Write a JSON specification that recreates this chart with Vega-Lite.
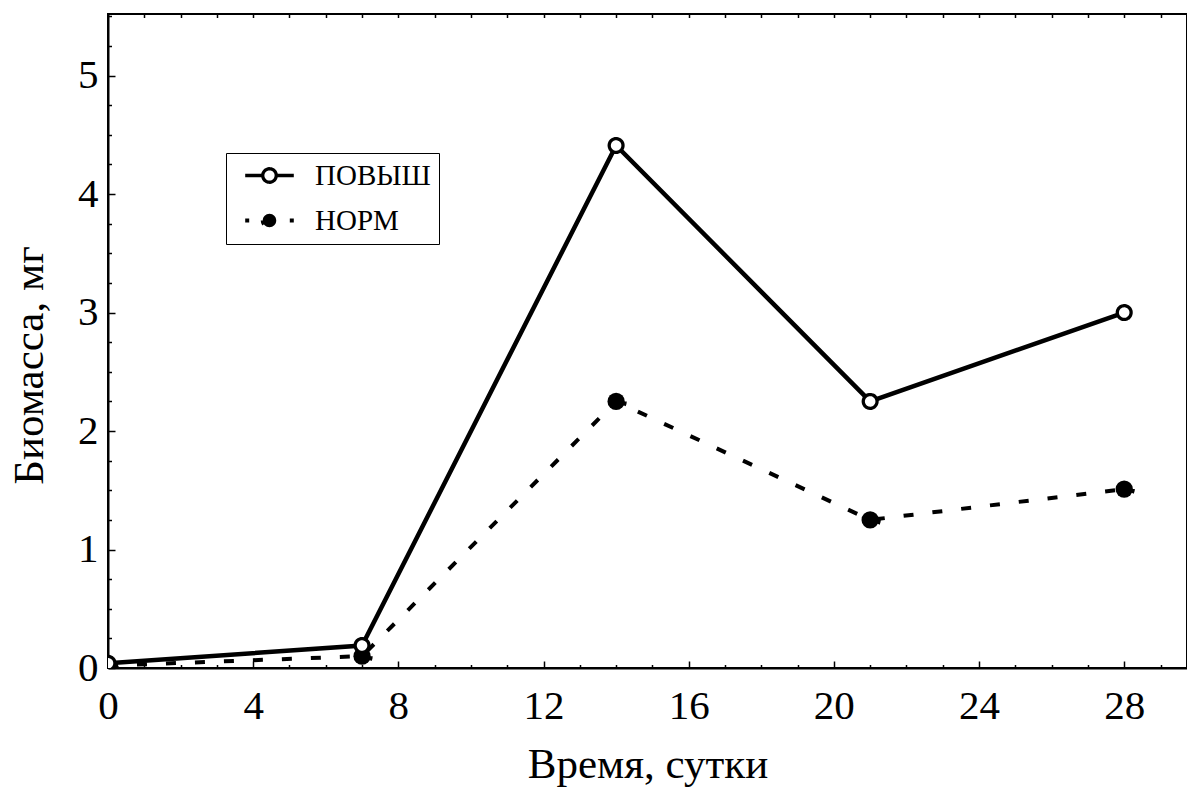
{
  "$schema": "https://vega.github.io/schema/vega-lite/v6.json",
  "width": 1079,
  "height": 654,
  "autosize": {"type": "none"},
  "padding": {"left": 108, "top": 14, "right": 0, "bottom": 119},
  "background": "white",
  "config": {
    "view": {"stroke": "black", "strokeWidth": 2},
    "font": "Liberation Serif",
    "axis": {
      "domainColor": "black", "tickColor": "black", "labelColor": "black", "titleColor": "black",
      "labelFont": "Liberation Serif", "titleFont": "Liberation Serif",
      "labelFontSize": 41, "titleFontSize": 43, "titleFontWeight": "normal",
      "grid": false, "domainWidth": 2, "tickWidth": 1.5, "labelOverlap": false, "labelFlush": false
    },
    "legend": {
      "labelFont": "Liberation Serif", "labelFontSize": 29, "labelColor": "black",
      "strokeColor": "black", "fillColor": "white", "padding": 8,
      "symbolType": "M-2.7,0L-0.75,0M2.7,0L0.75,0M-0.75,0A0.75,0.75,0,1,0,0.75,0A0.75,0.75,0,1,0,-0.75,0Z",
      "symbolSize": 324, "symbolOffset": 21, "labelOffset": 31, "rowPadding": 14,
      "symbolStrokeColor": "black"
    }
  },
  "data": {
    "values": [
      {"t": 0, "series": "ПОВЫШ", "b": 0.04},
      {"t": 7, "series": "ПОВЫШ", "b": 0.19},
      {"t": 14, "series": "ПОВЫШ", "b": 4.41},
      {"t": 21, "series": "ПОВЫШ", "b": 2.25},
      {"t": 28, "series": "ПОВЫШ", "b": 3.0},
      {"t": 0, "series": "НОРМ", "b": 0.02},
      {"t": 7, "series": "НОРМ", "b": 0.1},
      {"t": 14, "series": "НОРМ", "b": 2.25},
      {"t": 21, "series": "НОРМ", "b": 1.25},
      {"t": 28, "series": "НОРМ", "b": 1.51}
    ]
  },
  "resolve": {"axis": {"x": "independent", "y": "independent"}},
  "layer": [
    {
      "transform": [{"filter": "datum.series === 'ПОВЫШ'"}],
      "mark": {"type": "line", "clip": true, "color": "black", "strokeWidth": 4.5},
      "encoding": {
        "x": {
          "field": "t", "type": "quantitative",
          "scale": {"domain": [0, 29.73], "nice": false, "zero": false},
          "axis": {
            "orient": "bottom", "values": [0, 4, 8, 12, 16, 20, 24, 28], "tickSize": -7,
            "labelPadding": 25, "labelBaseline": "top", "title": "Время, сутки",
            "titleY": 109, "titleBaseline": "alphabetic"
          }
        },
        "y": {
          "field": "b", "type": "quantitative",
          "scale": {"domain": [0, 5.52], "nice": false, "zero": false},
          "axis": {
            "orient": "left", "values": [0, 1, 2, 3, 4, 5], "tickSize": -7,
            "labelPadding": 17, "title": "Биомасса, мг",
            "titleX": -66, "titleY": 351, "titleBaseline": "alphabetic", "titleAngle": -90
          }
        }
      }
    },
    {
      "transform": [{"filter": "datum.series === 'НОРМ'"}],
      "mark": {"type": "line", "clip": true, "color": "black", "strokeWidth": 4, "strokeDash": [10, 19], "strokeCap": "butt"},
      "encoding": {
        "x": {
          "field": "t", "type": "quantitative",
          "axis": {
            "orient": "top", "values": [1, 2, 3, 4, 5, 6, 7, 8, 9, 10, 11, 12, 13, 14, 15, 16, 17, 18, 19, 20, 21, 22, 23, 24, 25, 26, 27, 28, 29],
            "tickSize": -3.5, "labels": false, "domain": false, "title": null
          }
        },
        "y": {"field": "b", "type": "quantitative", "axis": null}
      }
    },
    {
      "transform": [{"filter": "datum.series === 'НОРМ'"}],
      "mark": {"type": "point", "shape": "circle", "clip": true, "stroke": "black", "opacity": 1, "fillOpacity": 1, "size": 300},
      "encoding": {
        "x": {
          "field": "t", "type": "quantitative",
          "axis": {
            "orient": "bottom", "values": [1, 2, 3, 5, 6, 7, 9, 10, 11, 13, 14, 15, 17, 18, 19, 21, 22, 23, 25, 26, 27, 29],
            "tickSize": -3.5, "labels": false, "domain": false, "title": null
          }
        },
        "y": {
          "field": "b", "type": "quantitative",
          "axis": {
            "orient": "left",
            "values": [0.25, 0.5, 0.75, 1.25, 1.5, 1.75, 2.25, 2.5, 2.75, 3.25, 3.5, 3.75, 4.25, 4.5, 4.75, 5.25, 5.5],
            "tickSize": -3.5, "labels": false, "domain": false, "title": null
          }
        },
        "fill": {
          "field": "series", "type": "nominal",
          "scale": {"domain": ["ПОВЫШ", "НОРМ"], "range": ["white", "black"]},
          "legend": {"title": null, "orient": "none", "legendX": 118, "legendY": 139, "labelFont": "Liberation Serif", "labelFontSize": 29}
        },
        "strokeDash": {
          "field": "series", "type": "nominal",
          "scale": {"domain": ["ПОВЫШ", "НОРМ"], "range": [[1, 0], [4, 100]]},
          "legend": {"title": null, "orient": "none", "legendX": 118, "legendY": 139, "labelFont": "Liberation Serif", "labelFontSize": 29}
        },
        "strokeWidth": {
          "field": "series", "type": "nominal",
          "scale": {"domain": ["ПОВЫШ", "НОРМ"], "range": [3.3, 4]},
          "legend": {"title": null, "orient": "none", "legendX": 118, "legendY": 139, "labelFont": "Liberation Serif", "labelFontSize": 29}
        }
      }
    },
    {
      "transform": [{"filter": "datum.series === 'ПОВЫШ'"}],
      "mark": {"type": "point", "shape": "circle", "clip": true, "stroke": "black", "opacity": 1, "fillOpacity": 1, "size": 190},
      "encoding": {
        "x": {"field": "t", "type": "quantitative", "axis": null},
        "y": {"field": "b", "type": "quantitative", "axis": null},
        "fill": {"field": "series", "type": "nominal"},
        "strokeDash": {"field": "series", "type": "nominal"},
        "strokeWidth": {"field": "series", "type": "nominal"}
      }
    }
  ]
}
